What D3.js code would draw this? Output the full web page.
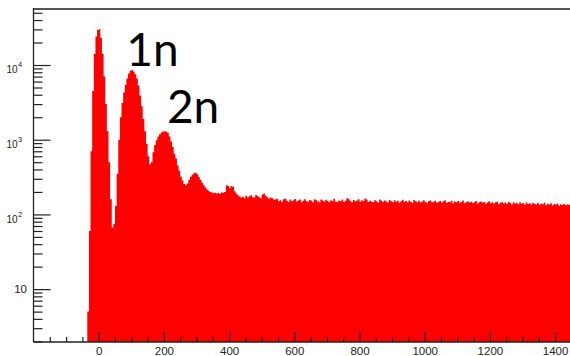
<!DOCTYPE html>
<html lang="en">
<head>
<meta charset="utf-8">
<title>charge spectrum</title>
<script src="https://cdn.jsdelivr.net/npm/d3@7"></script>
<style>
  body { margin: 0; background: #fff; }
  .lbl { font-family: "Liberation Sans", Arial, sans-serif; fill: #222; }
  .ann { font-family: Lato, "Open Sans", sans-serif; fill: #000; }
</style>
</head>
<body>
<script>
// histogram: first bin low edge and width (channels), then the counts per bin
var binStart = -35;
var binWidth = 5;
var counts = [
  5, 60, 700, 4500, 14000, 24000, 29500, 30000, 23000, 14000, 7000, 3000, 1300, 500, 160, 67, 75,
  130, 350, 1000, 2000, 3100, 4300, 5400, 6600, 7700, 8400, 8600, 8200, 7500, 6600, 5300, 3900,
  2800, 1900, 1300, 880, 600, 470, 500, 680,
  850, 980, 1100, 1180, 1250, 1290, 1300, 1280, 1240, 1100, 950, 800, 650, 560, 450, 380, 320,
  285, 255, 245, 260, 290, 320, 340, 355, 360, 345, 320, 290, 265, 245, 230, 215,
  208, 200, 196, 192, 195, 190, 193, 188, 196, 195, 200, 245, 240, 225, 240, 235, 205, 190, 180, 172, 168,
  172, 165, 178, 168, 175, 180, 170, 168, 182, 176, 170, 165, 185, 190, 178, 170, 162, 168, 164, 158,
  158, 162, 150, 155, 148, 160, 163, 152, 147, 158, 150, 155, 161, 149, 153, 158, 146, 152, 160, 150,
  148, 156, 152, 145, 160, 155, 150, 144, 158, 153, 149, 157, 151, 146, 155, 150, 162, 148, 145, 153,
  150, 158, 147, 152, 165, 160, 150, 145, 156, 149, 153, 160, 148, 155, 150, 163, 158, 147, 152, 148,
  145, 155, 150, 142, 158, 152, 147, 153, 149, 144, 156, 150, 146, 155, 148, 152, 143, 150, 157, 147,
  151, 145, 153, 148, 142, 156, 150, 146, 152, 144, 149, 155, 147, 141, 150, 153, 145, 148, 152, 143,
  147, 151, 144, 150, 155, 142, 148, 146, 152, 140, 149, 145, 151, 143, 147, 153, 141, 146, 150, 144,
  148, 142, 146, 151, 139, 145, 149, 143, 147, 138, 144, 150, 141, 146, 140, 145, 148, 137, 143, 146,
  140, 144, 138, 147, 142, 136, 145, 140, 143, 137, 146, 139, 142, 135, 144, 138, 141, 136, 143, 139,
  136, 142, 134, 140, 137, 143, 133, 139, 135, 141, 132, 138, 136, 140, 131, 137, 134, 139, 133, 136,
  135, 132, 138, 134, 130, 136
];
var xTicks = [0, 200, 400, 600, 800, 1000, 1200, 1400];
var yTicks = [10, 100, 1000, 10000];
var peakNames = ["1n", "2n"];
var peakChannel = [100, 200];

var w = 570, h = 356;
var plotLeft = 33.5, plotTop = 9, plotBottom = 342;

var svg = d3.select("body").append("svg")
    .attr("width", w)
    .attr("height", h);

var x = d3.scaleLinear().domain([-200, 1500]).range([plotLeft, plotLeft + 1700 * 0.326]);
var y = d3.scaleLog().domain([1.96, 56200]).range([plotBottom, plotTop]);

svg.append("clipPath").attr("id", "plot")
  .append("rect").attr("x", plotLeft).attr("y", plotTop)
  .attr("width", w - plotLeft).attr("height", plotBottom - plotTop);

// bins as steps
var bins = counts.map(function(c, i) { return { lo: binStart + i * binWidth, c: c }; });
bins.push({ lo: binStart + counts.length * binWidth, c: counts[counts.length - 1] });

var area = d3.area()
    .x(function(d) { return x(d.lo); })
    .y0(plotBottom)
    .y1(function(d) { return y(d.c); })
    .curve(d3.curveStepAfter);

svg.append("path")
  .datum(bins)
  .attr("clip-path", "url(#plot)")
  .attr("fill", "#ff0000")
  .attr("d", area);

// top frame
svg.append("line")
  .attr("x1", plotLeft).attr("x2", w).attr("y1", plotTop).attr("y2", plotTop)
  .attr("stroke", "#555").attr("stroke-width", 2);

// x axis, ticks pointing up
var minorX = d3.range(-150, 1500, 50).filter(function(v) { return v % 200 != 0; });
svg.append("g")
  .attr("transform", "translate(0," + plotBottom + ")")
  .call(d3.axisBottom(x).tickValues(minorX).tickSize(-5).tickFormat(""))
  .call(function(g) { g.select(".domain").remove(); });

var gx = svg.append("g")
  .attr("transform", "translate(0," + plotBottom + ")")
  .call(d3.axisBottom(x).tickValues(xTicks).tickSize(-10).tickPadding(4.5).tickFormat(d3.format("d")));
gx.select(".domain").remove();
gx.selectAll("text").attr("class", "lbl").attr("fill", null).style("font-size", "11.5px");

// y axis, log, ticks pointing right
var minorY = y.ticks().filter(function(v) { return yTicks.indexOf(v) < 0; });
svg.append("g")
  .attr("transform", "translate(" + plotLeft + ",0)")
  .call(d3.axisLeft(y).tickValues(minorY).tickSize(-9).tickFormat(""))
  .call(function(g) { g.select(".domain").remove(); });

var gy = svg.append("g")
  .attr("transform", "translate(" + plotLeft + ",0)")
  .call(d3.axisLeft(y).tickValues(yTicks).tickSize(-17).tickFormat(""));
gy.select(".domain").remove();

gy.selectAll(".tick").each(function(d) {
  var g = d3.select(this);
  var n = Math.round(Math.log10(d));
  if (n == 1) {
    g.append("text").attr("class", "lbl")
      .attr("x", -6.5).attr("y", 3.8)
      .attr("text-anchor", "end")
      .style("font-size", "11.5px")
      .text("10");
  } else {
    g.append("text").attr("class", "lbl")
      .attr("x", -16).attr("y", 7.8)
      .attr("text-anchor", "end")
      .style("font-size", "10px")
      .text("10");
    g.append("text").attr("class", "lbl")
      .attr("x", -15.6).attr("y", 1.8)
      .attr("text-anchor", "start")
      .style("font-size", "7.5px")
      .text(n);
  }
});

// axis lines
svg.append("line")
  .attr("x1", plotLeft).attr("x2", plotLeft).attr("y1", plotTop - 1).attr("y2", plotBottom)
  .attr("stroke", "#222").attr("stroke-width", 1.3);
svg.append("line")
  .attr("x1", plotLeft).attr("x2", w).attr("y1", plotBottom).attr("y2", plotBottom)
  .attr("stroke", "#222").attr("stroke-width", 1.3);
svg.selectAll(".tick line").attr("stroke", "#222").attr("stroke-width", 1.2);

// peak labels
var annOffset = [[-5, 66], [3, 123]];
peakNames.forEach(function(name, i) {
  svg.append("text").attr("class", "ann")
    .attr("x", x(peakChannel[i]) + annOffset[i][0])
    .attr("y", annOffset[i][1])
    .style("font-size", "46px")
    .text(name);
});
</script>
</body>
</html>
